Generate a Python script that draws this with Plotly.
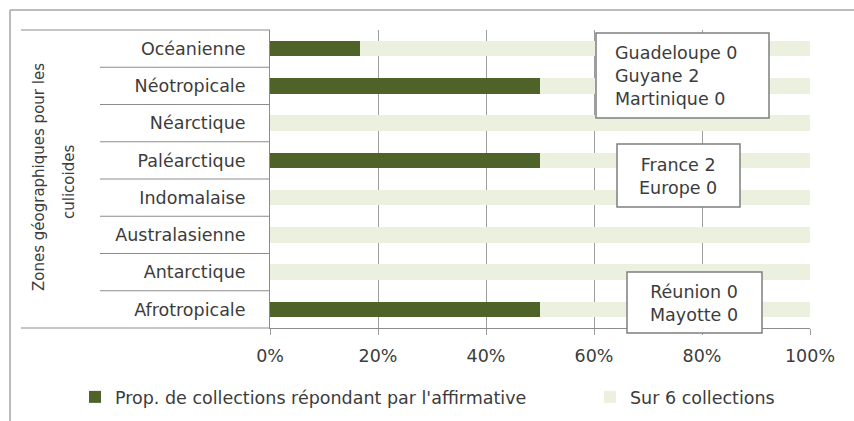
import plotly.graph_objects as go

# ---- data ----
categories = ["Océanienne", "Néotropicale", "Néarctique", "Paléarctique",
              "Indomalaise", "Australasienne", "Antarctique", "Afrotropicale"]
affirmative_counts = [1, 3, 0, 3, 0, 0, 0, 3]
n_collections = 6
x_tickvals = [0, 0.2, 0.4, 0.6, 0.8, 1.0]
x_ticktext = ["0%", "20%", "40%", "60%", "80%", "100%"]
series_names = ["Prop. de collections répondant par l'affirmative", "Sur 6 collections"]
box_texts = ["Guadeloupe 0<br>Guyane 2<br>Martinique 0",
             "France 2<br>Europe 0",
             "Réunion 0<br>Mayotte 0"]
y_title_lines = ["Zones géographiques pour les", "culicoides"]

prop = [c / n_collections for c in affirmative_counts]
rest = [1 - p for p in prop]

DARK = "#4f6228"
LIGHT = "#ebf1de"
TXT = "#3c3c3c"
FONT = "DejaVu Sans"
FS = 17.5

fig = go.Figure()
fig.add_trace(go.Bar(y=categories, x=prop, orientation="h", name=series_names[0],
                     marker=dict(color=DARK, line=dict(width=0)), width=0.41,
                     legend="legend", showlegend=True))
fig.add_trace(go.Bar(y=categories, x=rest, orientation="h", name=series_names[1],
                     marker=dict(color=LIGHT, line=dict(width=0)), width=0.41,
                     legend="legend2", showlegend=True))

# plot area in pixels: x 270..810, y 30..328
W, H = 854, 421
L, R, T, B = 270, 44, 30, 93
PW, PH = W - L - R, H - T - B

def px(x):
    return (x - L) / PW

def py(y):
    return (H - B - y) / PH

shapes = []
n = len(categories)
# category separators
for k in range(1, n):
    shapes.append(dict(type="line", xref="paper", yref="paper", x0=px(100), x1=0,
                       y0=1 - k / n, y1=1 - k / n, line=dict(color="#8c8c8c", width=1)))
# top line of category table and extension of bottom axis line
shapes.append(dict(type="line", xref="paper", yref="paper", x0=px(21), x1=0, y0=1, y1=1,
                   line=dict(color="#8c8c8c", width=1)))
shapes.append(dict(type="line", xref="paper", yref="paper", x0=px(21), x1=0, y0=0, y1=0,
                   line=dict(color="#8c8c8c", width=1)))
# outer frame
shapes.append(dict(type="line", xref="paper", yref="paper", x0=px(10), x1=px(10),
                   y0=py(10), y1=py(440), line=dict(color="#a6a6a6", width=1.5)))
shapes.append(dict(type="line", xref="paper", yref="paper", x0=px(10), x1=px(880),
                   y0=py(10), y1=py(10), line=dict(color="#a6a6a6", width=1.5)))
# annotation boxes
boxes = [(596, 769, 33, 118), (617, 740, 144, 207), (627, 762, 272, 333)]
for (x0, x1, y0, y1) in boxes:
    shapes.append(dict(type="rect", xref="paper", yref="paper", x0=px(x0), x1=px(x1),
                       y0=py(y1), y1=py(y0), fillcolor="white",
                       line=dict(color="#7f7f7f", width=1.5), layer="above"))

annotations = [
    dict(text=box_texts[0], xref="paper", yref="paper", x=px(613), y=py(76),
         xanchor="left", yanchor="middle", align="left", showarrow=False,
         font=dict(family=FONT, size=FS, color=TXT)),
    dict(text=box_texts[1], xref="paper", yref="paper", x=px(678), y=py(176),
         xanchor="center", yanchor="middle", align="center", showarrow=False,
         font=dict(family=FONT, size=FS, color=TXT)),
    dict(text=box_texts[2], xref="paper", yref="paper", x=px(694), y=py(303),
         xanchor="center", yanchor="middle", align="center", showarrow=False,
         font=dict(family=FONT, size=FS, color=TXT)),
    dict(text=y_title_lines[0], xref="paper", yref="paper", x=px(39), y=py(177),
         xanchor="center", yanchor="middle", textangle=-90, showarrow=False,
         font=dict(family=FONT, size=15, color=TXT)),
    dict(text=y_title_lines[1], xref="paper", yref="paper", x=px(69), y=py(182),
         xanchor="center", yanchor="middle", textangle=-90, showarrow=False,
         font=dict(family=FONT, size=15, color=TXT)),
]

fig.update_layout(
    width=W, height=H,
    margin=dict(l=L, r=R, t=T, b=B, autoexpand=False),
    showlegend=True,
    barmode="stack",
    paper_bgcolor="white", plot_bgcolor="white",
    font=dict(family=FONT, size=FS, color=TXT),
    xaxis=dict(range=[0, 1], tickvals=x_tickvals, ticktext=x_ticktext,
               showgrid=True, gridcolor="#9c9c9c", gridwidth=1,
               ticks="outside", ticklen=6, tickcolor="#9c9c9c", ticklabelstandoff=6,
               showline=True, linecolor="#8c8c8c", linewidth=1,
               zeroline=False, fixedrange=True, automargin=False),
    yaxis=dict(categoryorder="array", categoryarray=categories, autorange="reversed",
               showgrid=False, ticks="outside", ticklen=20, tickcolor="rgba(0,0,0,0)",
               showline=True, linecolor="#8c8c8c", linewidth=1, zeroline=False,
               fixedrange=True, automargin=False),
    legend=dict(orientation="h", xref="container", yref="container",
                x=75 / W, y=1 - 397 / H, xanchor="left", yanchor="middle",
                font=dict(family=FONT, size=FS, color=TXT), bgcolor="rgba(0,0,0,0)"),
    legend2=dict(orientation="h", xref="container", yref="container",
                 x=590 / W, y=1 - 397 / H, xanchor="left", yanchor="middle",
                 font=dict(family=FONT, size=FS, color=TXT), bgcolor="rgba(0,0,0,0)"),
    shapes=shapes,
    annotations=annotations,
)

fig.write_html("out.html", config={"displayModeBar": False},
               post_script="document.body.style.margin='0';")
